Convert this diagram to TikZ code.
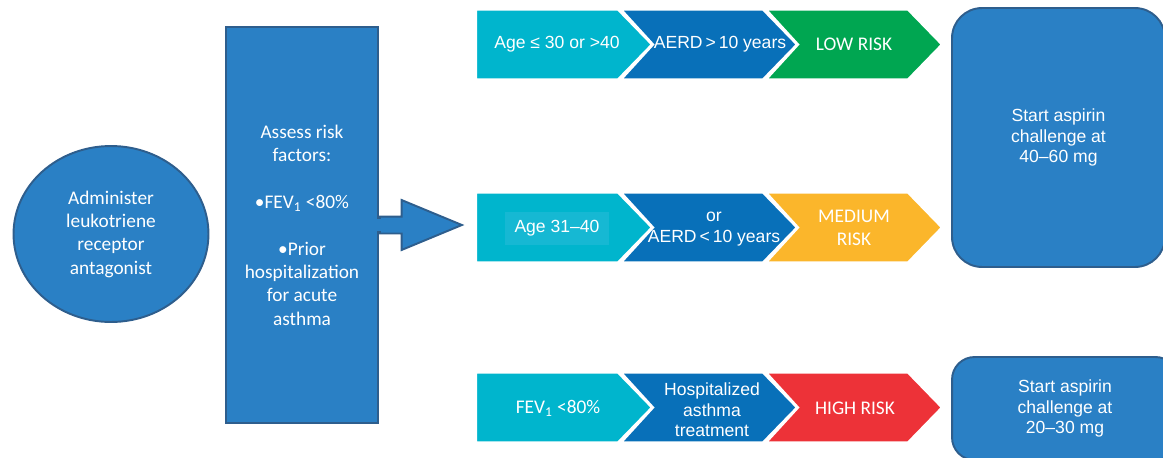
\documentclass[tikz,border=0pt]{standalone}
\usepackage{fontspec}
\setmainfont{Carlito}
\newfontfamily\arialfont{Liberation Sans}
\usetikzlibrary{shapes.geometric, shapes.arrows, positioning}

\definecolor{boxblue}{RGB}{42,128,197}
\definecolor{edgeblue}{RGB}{46,94,141}
\definecolor{chevcyan}{RGB}{0,181,205}
\definecolor{chevblue}{RGB}{8,112,185}
\definecolor{chevgreen}{RGB}{0,166,81}
\definecolor{chevorange}{RGB}{251,182,43}
\definecolor{chevred}{RGB}{237,50,56}
\definecolor{tagcyan}{RGB}{22,184,211}

% #1 = left x, #2 = middle y, #3 = fill, #4 = notch depth (0 = flat)
\newcommand{\chev}[4]{%
    \fill[#3, draw=white, line width=1.3pt]
        (#1,#2-35) -- ++(142,0) -- ++(34,35) -- ++(-34,35) -- ++(-142,0) -- ++(#4,-35) -- cycle;}

\begin{document}
\begin{tikzpicture}[x=0.02cm, y=-0.02cm,
    every node/.style={text=white, align=center, inner sep=0pt},
    calibri/.style={font=\fontsize{11}{13.3}\selectfont},
    arial/.style={font=\arialfont\fontsize{10}{11.6}\selectfont},
    blueshape/.style={fill=boxblue, draw=edgeblue, line width=1.1pt}]
    \useasboundingbox (0,0) rectangle (1163,457);
    \clip (0,0) rectangle (1163,457);

    % left part
    \node (lta)    [ellipse, blueshape, calibri, minimum width=3.9cm, minimum height=3.52cm] at (111,234)
        {Administer\\leukotriene\\receptor\\antagonist};
    \node (assess) [rectangle, blueshape, calibri, minimum width=3.04cm, minimum height=7.92cm] at (302,225)
        {Assess risk\\factors:\\[13.3pt]•FEV\textsubscript{1} <80\%\\[13.3pt]•Prior\\hospitalization\\for acute\\asthma};
    \node (push)   [single arrow, blueshape, inner ysep=0.15cm, minimum height=1.64cm, minimum width=0.96cm,
        single arrow head extend=0.33cm, single arrow tip angle=45, anchor=west] at (assess.east) {};
    \fill[boxblue, shift={(assess.east)}] (-1.6,-6.4) rectangle (1.6,6.4);

    % risk rows
    \foreach \y/\last in {44.5/chevgreen, 227.5/chevorange, 407.5/chevred} {
        \chev{476}{\y}{chevcyan}{0}
        \chev{621}{\y}{chevblue}{32}
        \chev{766}{\y}{\last}{32}
    }

    \node (age1)   [arial]   at (557,44.5)  {Age ≤ 30 or >40};
    \node (aerd1)  [arial]   at (720,44.5)  {AERD\,>\,10 years};
    \node (low)    [calibri] at (854,44)    {LOW RISK};

    \node (age2)   [fill=tagcyan, arial, minimum width=2.1cm, minimum height=0.66cm] at (557,228.5) {Age 31–40};
    \node (aerd2)  [arial]   at (714,229)   {or\\AERD\,<\,10 years};
    \node (medium) [calibri] at (854,228)   {MEDIUM\\RISK};

    \node (fev)    [calibri] at (558,408)   {FEV\textsubscript{1} <80\%};
    \node (hosp)   [arial]   at (712,410)   {Hospitalized\\asthma\\treatment};
    \node (high)   [calibri] at (855,408)   {HIGH RISK};

    % doses
    \node (dose1)  [rectangle, rounded corners=0.6cm, blueshape, arial, minimum width=4.26cm, minimum height=5.18cm]
        at (1058.5,137.5) {Start aspirin\\challenge at\\40–60 mg};
    \node (dose2)  [rectangle, rounded corners=0.45cm, blueshape, arial, minimum width=4.52cm, minimum height=2.06cm]
        at (1065,408.5) {Start aspirin\\challenge at\\20–30 mg};
\end{tikzpicture}
\end{document}
